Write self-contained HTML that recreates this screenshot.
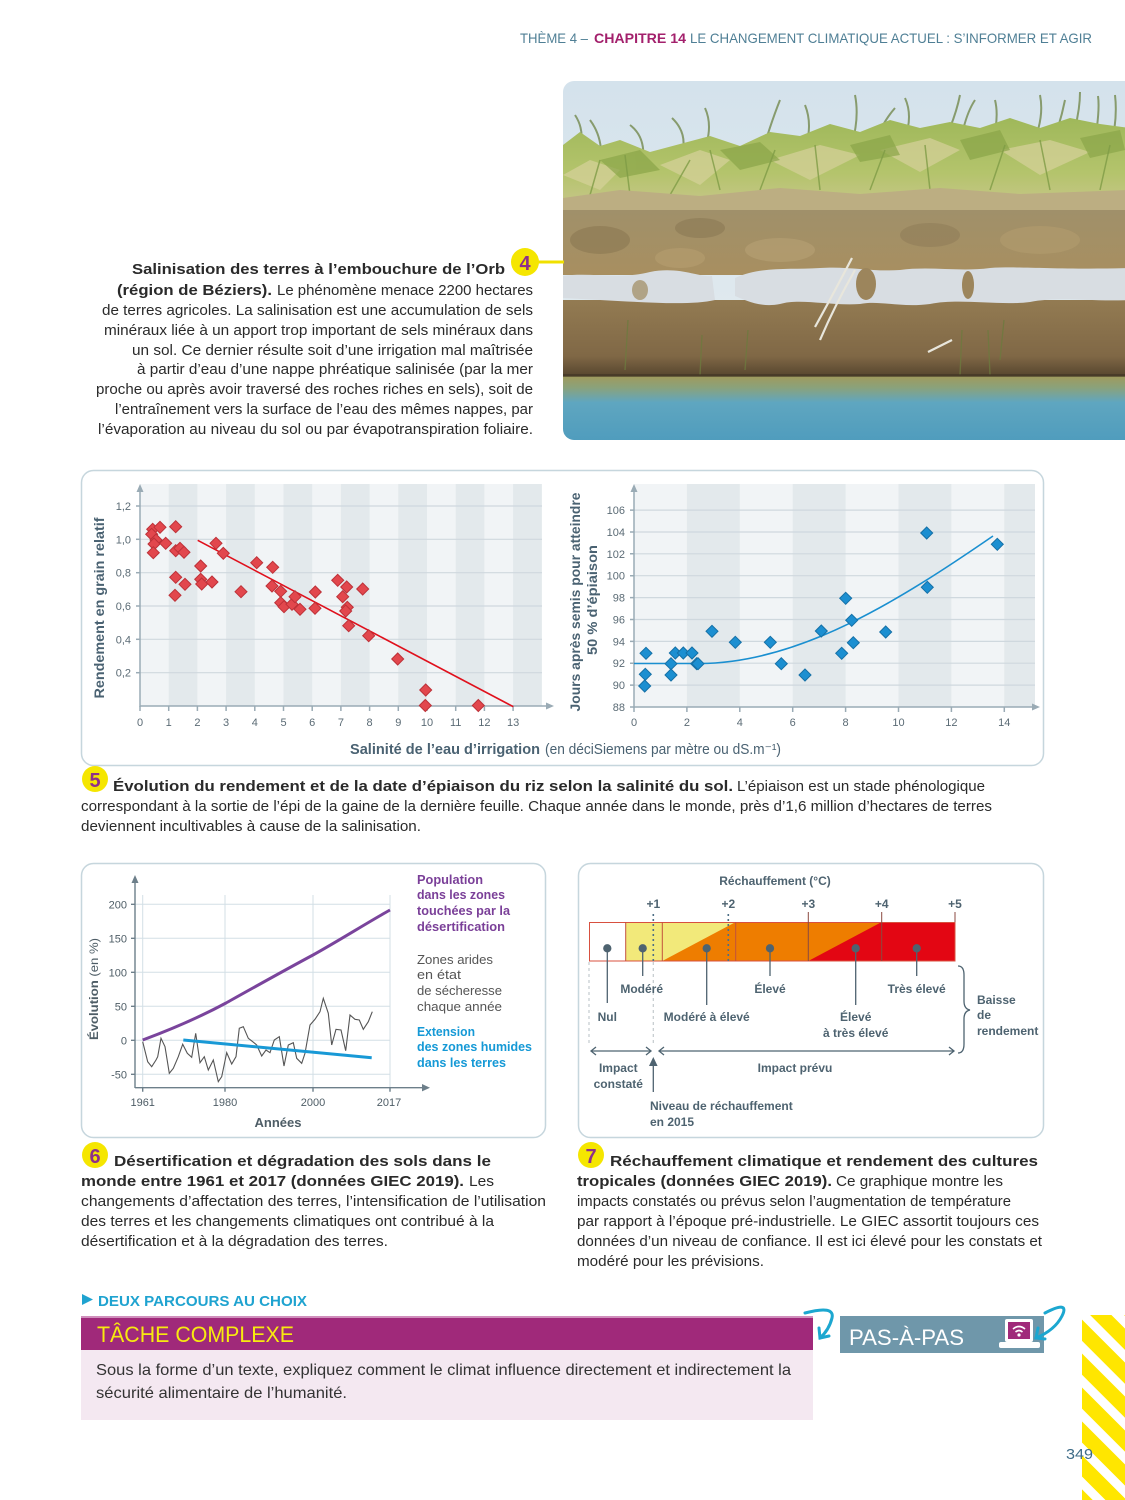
<!DOCTYPE html>
<html lang="fr"><head><meta charset="utf-8"><title>Chapitre 14</title>
<style>
html,body{margin:0;padding:0;background:#fff;}
svg{display:block;}
text{font-family:"Liberation Sans",sans-serif;}
</style></head>
<body>
<svg width="1125" height="1500" viewBox="0 0 1125 1500" xmlns="http://www.w3.org/2000/svg">
<defs>
<linearGradient id="sky" x1="0" y1="0" x2="0" y2="1"><stop offset="0" stop-color="#d4e2ec"/><stop offset="1" stop-color="#e6edf0"/></linearGradient>
<linearGradient id="water" x1="0" y1="0" x2="0" y2="1"><stop offset="0" stop-color="#a09a5c"/><stop offset="0.18" stop-color="#8aa27c"/><stop offset="0.4" stop-color="#5fa6c0"/><stop offset="1" stop-color="#4f9cbd"/></linearGradient>
<linearGradient id="lsoil" x1="0" y1="0" x2="0" y2="1"><stop offset="0" stop-color="#937b52"/><stop offset="0.7" stop-color="#806846"/><stop offset="1" stop-color="#4f3f2a"/></linearGradient>
<linearGradient id="usoil" x1="0" y1="0" x2="0" y2="1"><stop offset="0" stop-color="#a0906a"/><stop offset="1" stop-color="#a88f60"/></linearGradient>
<linearGradient id="grass" x1="0" y1="0" x2="0" y2="1"><stop offset="0" stop-color="#9fb85a"/><stop offset="0.6" stop-color="#b4c46c"/><stop offset="1" stop-color="#c9c68c"/></linearGradient>
<clipPath id="ph"><rect x="563" y="81" width="600" height="359" rx="11"/></clipPath>
<pattern id="stripes" width="24" height="24" patternUnits="userSpaceOnUse" patternTransform="rotate(45)"><rect width="24" height="24" fill="#fff"/><rect width="24" height="15" fill="#ffe600"/></pattern>
<path id="rd" d="M0,-6 L6,0 0,6 -6,0Z" fill="#e2474d" stroke="#bd3138" stroke-width="1"/>
<path id="bd" d="M0,-6 L6,0 0,6 -6,0Z" fill="#1c8fd1" stroke="#1570a6" stroke-width="1"/>
</defs>

<!-- HEADER -->
<text y="43" font-size="14" fill="#4f7f95"><tspan x="520" textLength="68" lengthAdjust="spacingAndGlyphs">THÈME 4 –</tspan></text>
<text x="594" y="43" font-size="14" font-weight="bold" fill="#a3206c" textLength="92" lengthAdjust="spacingAndGlyphs">CHAPITRE 14</text>
<text x="690" y="43" font-size="14" fill="#4f7f95" textLength="402" lengthAdjust="spacingAndGlyphs">LE CHANGEMENT CLIMATIQUE ACTUEL : S’INFORMER ET AGIR</text>

<!-- PHOTO -->
<g clip-path="url(#ph)">
<rect x="563" y="81" width="600" height="360" fill="url(#sky)"/>
<g stroke="#7a8f58" stroke-width="2" fill="none" opacity="0.85">
<path d="M600,170 Q605,140 590,120"/><path d="M640,175 Q650,140 630,125"/><path d="M700,160 Q715,130 705,108"/>
<path d="M760,160 Q770,125 780,100"/><path d="M800,160 Q815,130 805,105"/><path d="M850,150 Q860,120 855,95"/>
<path d="M900,150 Q915,120 905,98"/><path d="M940,150 Q955,120 960,95"/><path d="M990,150 Q1000,120 995,100"/>
<path d="M1030,150 Q1045,120 1040,95"/><path d="M1070,145 Q1080,115 1080,92"/><path d="M1110,150 Q1118,120 1115,95"/>
<path d="M680,160 Q690,135 672,118"/><path d="M870,155 Q880,125 895,108"/><path d="M1050,150 Q1060,125 1065,100"/>
<path d="M580,150 Q585,130 575,115"/><path d="M960,145 Q965,115 975,100"/><path d="M1095,140 Q1100,110 1098,96"/>
</g>
<polygon fill="url(#grass)" points="563,145 580,132 600,146 620,140 650,152 680,144 710,136 740,146 770,132 800,136 830,124 860,132 890,120 920,128 950,122 980,128 1010,118 1040,128 1070,118 1100,124 1130,128 1130,210 563,210"/>
<g fill="#d4d098" opacity="0.75">
<polygon points="563,175 590,160 620,170 600,190"/>
<polygon points="660,165 700,150 730,160 700,185"/>
<polygon points="770,160 820,145 860,155 810,180"/>
<polygon points="880,150 930,138 960,150 920,172"/>
<polygon points="1000,150 1050,140 1090,152 1040,175"/>
</g>
<g fill="#8aa548" opacity="0.7">
<polygon points="600,160 640,150 660,170 620,178"/>
<polygon points="720,150 760,142 780,160 740,170"/>
<polygon points="850,145 890,135 900,155 860,162"/>
<polygon points="960,140 1000,130 1010,150 970,160"/>
<polygon points="1080,138 1120,130 1125,150 1090,158"/>
</g>
<g stroke="#7f9c46" stroke-width="1.5" fill="none" opacity="0.8">
<path d="M590,195 L600,160"/><path d="M630,195 L625,155"/><path d="M670,195 L690,160"/><path d="M720,190 L710,150"/><path d="M760,190 L775,150"/><path d="M820,190 L815,145"/><path d="M870,190 L885,150"/><path d="M930,190 L925,145"/><path d="M990,190 L1005,145"/><path d="M1050,190 L1040,140"/><path d="M1100,190 L1110,145"/>
</g>
<polygon fill="#bcae82" points="563,198 620,190 700,196 780,188 860,194 940,188 1020,194 1130,190 1130,214 563,214"/>
<rect x="563" y="210" width="600" height="65" fill="url(#usoil)"/>
<ellipse cx="600" cy="240" rx="30" ry="14" fill="#8a7852" opacity="0.6"/>
<ellipse cx="700" cy="228" rx="25" ry="10" fill="#857350" opacity="0.5"/>
<ellipse cx="780" cy="250" rx="35" ry="12" fill="#b8a274" opacity="0.6"/>
<ellipse cx="930" cy="235" rx="30" ry="12" fill="#8c7a55" opacity="0.5"/>
<ellipse cx="1040" cy="240" rx="40" ry="14" fill="#b29c6e" opacity="0.6"/>
<ellipse cx="680" cy="258" rx="25" ry="10" fill="#b59f70" opacity="0.6"/>
<rect x="563" y="300" width="600" height="80" fill="url(#lsoil)"/>
<path fill="#d8dde2" d="M563,276 C590,272 620,280 650,272 C680,266 700,278 712,276 L715,300 C690,306 640,302 600,300 L563,298 Z"/>
<path fill="#d8dde2" d="M735,278 C760,266 790,270 820,268 C850,266 870,272 900,270 C930,266 960,272 990,268 C1020,266 1060,270 1130,268 L1130,300 C1090,302 1060,296 1030,302 C1000,306 960,298 930,304 C900,308 880,300 860,304 C830,306 800,298 780,304 C760,308 745,300 735,296 Z"/>
<ellipse cx="866" cy="284" rx="10" ry="16" fill="#9c855c"/>
<ellipse cx="968" cy="285" rx="6" ry="14" fill="#9c855c"/>
<ellipse cx="640" cy="290" rx="8" ry="10" fill="#a08a60" opacity="0.7"/>
<g stroke="#e8e6dc" stroke-width="2.2" fill="none">
<path d="M815,327 Q830,300 852,258"/><path d="M820,340 Q835,305 855,270"/><path d="M928,352 L952,340"/>
</g>
<g stroke="#6d7a3e" stroke-width="1.3" fill="none" opacity="0.8">
<path d="M625,370 L628,320"/><path d="M700,375 L702,335"/><path d="M745,370 L748,330"/><path d="M960,375 L962,330"/><path d="M990,375 L988,330"/><path d="M1000,360 L1004,320"/>
</g>
<rect x="563" y="376" width="600" height="66" fill="url(#water)"/>
<rect x="563" y="374" width="600" height="3" fill="#3e3324" opacity="0.6"/>
</g>

<!-- CAPTION 4 -->
<line x1="538" y1="262" x2="564" y2="262" stroke="#f0e000" stroke-width="3"/>
<circle cx="525" cy="262" r="14" fill="#f5e600"/>
<text x="525" y="270" font-size="20" font-weight="bold" fill="#8e2f8a" text-anchor="middle">4</text>
<g font-size="15" fill="#2a2a2a">
<text x="132" y="274" font-weight="bold" textLength="373" lengthAdjust="spacingAndGlyphs">Salinisation des terres à l’embouchure de l’Orb</text>
<text x="117" y="295" font-weight="bold" textLength="155" lengthAdjust="spacingAndGlyphs">(région de Béziers).</text>
<text x="277" y="295" textLength="256" lengthAdjust="spacingAndGlyphs">Le phénomène menace 2200 hectares</text>
<text x="102" y="315" textLength="431" lengthAdjust="spacingAndGlyphs">de terres agricoles. La salinisation est une accumulation de sels</text>
<text x="104" y="335" textLength="429" lengthAdjust="spacingAndGlyphs">minéraux liée à un apport trop important de sels minéraux dans</text>
<text x="132" y="355" textLength="401" lengthAdjust="spacingAndGlyphs">un sol. Ce dernier résulte soit d’une irrigation mal maîtrisée</text>
<text x="137" y="374" textLength="396" lengthAdjust="spacingAndGlyphs">à partir d’eau d’une nappe phréatique salinisée (par la mer</text>
<text x="96" y="394" textLength="437" lengthAdjust="spacingAndGlyphs">proche ou après avoir traversé des roches riches en sels), soit de</text>
<text x="115" y="414" textLength="418" lengthAdjust="spacingAndGlyphs">l’entraînement vers la surface de l’eau des mêmes nappes, par</text>
<text x="98" y="434" textLength="435" lengthAdjust="spacingAndGlyphs">l’évaporation au niveau du sol ou par évapotranspiration foliaire.</text>
</g>

<!-- CHART 5 BOX -->
<rect x="81.5" y="470.5" width="962" height="295" rx="12" fill="#fff" stroke="#c6d6dd" stroke-width="1.5"/>
<!-- left plot -->
<rect x="140" y="484" width="402" height="222" fill="#f1f4f6"/>
<g fill="#e3e9ec">
<rect x="168.7" y="484" width="28.7" height="222"/><rect x="226.1" y="484" width="28.7" height="222"/><rect x="283.5" y="484" width="28.7" height="222"/><rect x="340.9" y="484" width="28.7" height="222"/><rect x="398.3" y="484" width="28.7" height="222"/><rect x="455.7" y="484" width="28.7" height="222"/><rect x="513.1" y="484" width="28.7" height="222"/>
</g>
<g stroke="#cfd8de" stroke-width="1.2">
<line x1="140" y1="506" x2="542" y2="506"/><line x1="140" y1="539.3" x2="542" y2="539.3"/><line x1="140" y1="572.7" x2="542" y2="572.7"/><line x1="140" y1="606" x2="542" y2="606"/><line x1="140" y1="639.3" x2="542" y2="639.3"/><line x1="140" y1="672.7" x2="542" y2="672.7"/>
</g>
<g stroke="#9aabb5" stroke-width="1.5" fill="none">
<line x1="140" y1="707" x2="140" y2="488"/><line x1="140" y1="706" x2="550" y2="706"/>
<line x1="136" y1="506" x2="140" y2="506"/><line x1="136" y1="539.3" x2="140" y2="539.3"/><line x1="136" y1="572.7" x2="140" y2="572.7"/><line x1="136" y1="606" x2="140" y2="606"/><line x1="136" y1="639.3" x2="140" y2="639.3"/><line x1="136" y1="672.7" x2="140" y2="672.7"/>
<path d="M140,706v5M168.7,706v5M197.4,706v5M226.1,706v5M254.8,706v5M283.5,706v5M312.2,706v5M340.9,706v5M369.6,706v5M398.3,706v5M427,706v5M455.7,706v5M484.4,706v5M513.1,706v5"/>
</g>
<path d="M136.5,492 L140,484 143.5,492Z" fill="#9aabb5"/>
<path d="M546,702.5 L554,706 546,709.5Z" fill="#9aabb5"/>
<g font-size="11" fill="#5b6b75" text-anchor="end">
<text x="131" y="510">1,2</text><text x="131" y="543.3">1,0</text><text x="131" y="576.7">0,8</text><text x="131" y="610">0,6</text><text x="131" y="643.3">0,4</text><text x="131" y="676.7">0,2</text>
</g>
<g font-size="11" fill="#5b6b75" text-anchor="middle">
<text x="140" y="726">0</text><text x="168.7" y="726">1</text><text x="197.4" y="726">2</text><text x="226.1" y="726">3</text><text x="254.8" y="726">4</text><text x="283.5" y="726">5</text><text x="312.2" y="726">6</text><text x="340.9" y="726">7</text><text x="369.6" y="726">8</text><text x="398.3" y="726">9</text><text x="427" y="726">10</text><text x="455.7" y="726">11</text><text x="484.4" y="726">12</text><text x="513.1" y="726">13</text>
</g>
<text transform="translate(104,608) rotate(-90)" font-size="14" font-weight="bold" fill="#4a6272" text-anchor="middle" textLength="181" lengthAdjust="spacingAndGlyphs">Rendement en grain relatif</text>
<line x1="197.7" y1="540.3" x2="513.3" y2="706.7" stroke="#e0101c" stroke-width="1.6"/>
<g>
<use href="#rd" x="152.7" y="529.3"/><use href="#rd" x="160" y="527.3"/><use href="#rd" x="151.7" y="534.3"/><use href="#rd" x="156" y="540"/><use href="#rd" x="154" y="544"/><use href="#rd" x="153.3" y="552.7"/><use href="#rd" x="165.7" y="543.3"/><use href="#rd" x="175.7" y="526.7"/><use href="#rd" x="175.7" y="550.7"/><use href="#rd" x="180" y="548.3"/><use href="#rd" x="184" y="552.3"/><use href="#rd" x="175.7" y="577.3"/><use href="#rd" x="185" y="584.3"/><use href="#rd" x="175" y="595.3"/><use href="#rd" x="200.7" y="566"/><use href="#rd" x="200.7" y="579.3"/><use href="#rd" x="201.7" y="584"/><use href="#rd" x="212" y="582"/><use href="#rd" x="216" y="543.3"/><use href="#rd" x="223.3" y="553.3"/><use href="#rd" x="241" y="591.7"/><use href="#rd" x="256.7" y="562.7"/><use href="#rd" x="272.7" y="567.3"/><use href="#rd" x="272" y="586"/><use href="#rd" x="280.7" y="591.3"/><use href="#rd" x="280.7" y="602.7"/><use href="#rd" x="284" y="606.7"/><use href="#rd" x="292" y="604.3"/><use href="#rd" x="295" y="596.7"/><use href="#rd" x="300" y="609.3"/><use href="#rd" x="315.3" y="592"/><use href="#rd" x="315" y="608.3"/><use href="#rd" x="337.7" y="580.3"/><use href="#rd" x="346.7" y="587"/><use href="#rd" x="342.7" y="596.7"/><use href="#rd" x="347.3" y="607.3"/><use href="#rd" x="345.7" y="611"/><use href="#rd" x="348.7" y="625.7"/><use href="#rd" x="362.7" y="589"/><use href="#rd" x="368.7" y="635.7"/><use href="#rd" x="397.7" y="659"/><use href="#rd" x="425.7" y="690"/><use href="#rd" x="425.3" y="705.5"/><use href="#rd" x="478.3" y="705.5"/>
</g>

<!-- right plot -->
<rect x="634" y="484" width="401" height="223" fill="#f1f4f6"/>
<g fill="#e3e9ec">
<rect x="686.9" y="484" width="52.9" height="223"/><rect x="792.7" y="484" width="52.9" height="223"/><rect x="898.5" y="484" width="52.9" height="223"/><rect x="1004.3" y="484" width="30.7" height="223"/>
</g>
<g stroke="#cfd8de" stroke-width="1.2">
<line x1="634" y1="685.1" x2="1035" y2="685.1"/><line x1="634" y1="663.2" x2="1035" y2="663.2"/><line x1="634" y1="641.4" x2="1035" y2="641.4"/><line x1="634" y1="619.5" x2="1035" y2="619.5"/><line x1="634" y1="597.6" x2="1035" y2="597.6"/><line x1="634" y1="575.7" x2="1035" y2="575.7"/><line x1="634" y1="553.8" x2="1035" y2="553.8"/><line x1="634" y1="532" x2="1035" y2="532"/><line x1="634" y1="510.1" x2="1035" y2="510.1"/>
</g>
<g stroke="#9aabb5" stroke-width="1.5" fill="none">
<line x1="634" y1="708" x2="634" y2="488"/><line x1="634" y1="707" x2="1036" y2="707"/>
<path d="M630,707h4M630,685.1h4M630,663.2h4M630,641.4h4M630,619.5h4M630,597.6h4M630,575.7h4M630,553.8h4M630,532h4M630,510.1h4"/>
<path d="M634,707v5M686.9,707v5M739.8,707v5M792.7,707v5M845.6,707v5M898.5,707v5M951.4,707v5M1004.3,707v5"/>
</g>
<path d="M630.5,492 L634,484 637.5,492Z" fill="#9aabb5"/>
<path d="M1032,703.5 L1040,707 1032,710.5Z" fill="#9aabb5"/>
<g font-size="11" fill="#5b6b75" text-anchor="end">
<text x="625" y="711">88</text><text x="625" y="689.1">90</text><text x="625" y="667.2">92</text><text x="625" y="645.4">94</text><text x="625" y="623.5">96</text><text x="625" y="601.6">98</text><text x="625" y="579.7">100</text><text x="625" y="557.8">102</text><text x="625" y="536">104</text><text x="625" y="514.1">106</text>
</g>
<g font-size="11" fill="#5b6b75" text-anchor="middle">
<text x="634" y="726">0</text><text x="686.9" y="726">2</text><text x="739.8" y="726">4</text><text x="792.7" y="726">6</text><text x="845.6" y="726">8</text><text x="898.5" y="726">10</text><text x="951.4" y="726">12</text><text x="1004.3" y="726">14</text>
</g>
<text transform="translate(580,602) rotate(-90)" font-size="14" font-weight="bold" fill="#4a6272" text-anchor="middle" textLength="219" lengthAdjust="spacingAndGlyphs">Jours après semis pour atteindre</text>
<text transform="translate(597,600) rotate(-90)" font-size="14" font-weight="bold" fill="#4a6272" text-anchor="middle" textLength="110" lengthAdjust="spacingAndGlyphs">50 % d’épiaison</text>
<path d="M634,663.5 L700,663.5 C800,663 900,600 993,536" fill="none" stroke="#1a8fd0" stroke-width="1.6"/>
<g>
<use href="#bd" x="646" y="653.3"/><use href="#bd" x="645.3" y="674.3"/><use href="#bd" x="644.7" y="686"/><use href="#bd" x="671" y="663.7"/><use href="#bd" x="671" y="675"/><use href="#bd" x="675.3" y="653"/><use href="#bd" x="683.3" y="653"/><use href="#bd" x="692" y="653"/><use href="#bd" x="696.7" y="663.7"/><use href="#bd" x="698" y="663.7"/><use href="#bd" x="712" y="631.3"/><use href="#bd" x="735.3" y="642.3"/><use href="#bd" x="770.3" y="642.3"/><use href="#bd" x="781.3" y="663.7"/><use href="#bd" x="805" y="675"/><use href="#bd" x="821.3" y="631"/><use href="#bd" x="841.7" y="653.3"/><use href="#bd" x="845.7" y="598.3"/><use href="#bd" x="851.7" y="620.3"/><use href="#bd" x="853.3" y="642.7"/><use href="#bd" x="885.7" y="632"/><use href="#bd" x="926.7" y="533"/><use href="#bd" x="927.3" y="587.3"/><use href="#bd" x="997.3" y="544.3"/>
</g>
<text x="350" y="754" font-size="14.5" font-weight="bold" fill="#4a6272" textLength="190" lengthAdjust="spacingAndGlyphs">Salinité de l’eau d’irrigation</text>
<text x="545" y="754" font-size="14.5" fill="#4a6272" textLength="236" lengthAdjust="spacingAndGlyphs">(en déciSiemens par mètre ou dS.m⁻¹)</text>

<!-- CAPTION 5 -->
<circle cx="95" cy="779" r="13" fill="#f5e600"/>
<text x="95" y="787" font-size="20" font-weight="bold" fill="#8e2f8a" text-anchor="middle">5</text>
<g font-size="15" fill="#2a2a2a">
<text x="113" y="791" font-weight="bold" textLength="620" lengthAdjust="spacingAndGlyphs">Évolution du rendement et de la date d’épiaison du riz selon la salinité du sol.</text>
<text x="737" y="791" textLength="248" lengthAdjust="spacingAndGlyphs">L’épiaison est un stade phénologique</text>
<text x="81" y="811" textLength="911" lengthAdjust="spacingAndGlyphs">correspondant à la sortie de l’épi de la gaine de la dernière feuille. Chaque année dans le monde, près d’1,6 million d’hectares de terres</text>
<text x="81" y="831" textLength="340" lengthAdjust="spacingAndGlyphs">deviennent incultivables à cause de la salinisation.</text>
</g>

<!-- CHART 6 -->
<rect x="81.5" y="863.5" width="464" height="274" rx="12" fill="#fff" stroke="#c6d6dd" stroke-width="1.5"/>
<g stroke="#d3dfe6" stroke-width="1">
<line x1="135" y1="904.3" x2="390" y2="904.3"/><line x1="135" y1="938.3" x2="390" y2="938.3"/><line x1="135" y1="972.3" x2="390" y2="972.3"/><line x1="135" y1="1006.3" x2="390" y2="1006.3"/><line x1="135" y1="1040.3" x2="390" y2="1040.3"/><line x1="135" y1="1074.3" x2="390" y2="1074.3"/>
<line x1="142.7" y1="895" x2="142.7" y2="1088"/><line x1="225" y1="895" x2="225" y2="1088"/><line x1="313" y1="895" x2="313" y2="1088"/><line x1="390" y1="895" x2="390" y2="1088"/>
</g>
<g stroke="#6d7f8a" stroke-width="1.4" fill="none">
<line x1="135" y1="1088" x2="135" y2="880"/><line x1="135" y1="1087.7" x2="424" y2="1087.7"/>
<path d="M131,904.3h4M131,938.3h4M131,972.3h4M131,1006.3h4M131,1040.3h4M131,1074.3h4"/>
<path d="M142.7,1087.7v4M225,1087.7v4M313,1087.7v4M390,1087.7v4"/>
</g>
<path d="M131.5,883 L135,875 138.5,883Z" fill="#6d7f8a"/>
<path d="M422,1084 L430,1087.7 422,1091.4Z" fill="#6d7f8a"/>
<g font-size="11" fill="#4e5d66" text-anchor="end">
<text x="127" y="908.3">200</text><text x="127" y="942.3">150</text><text x="127" y="976.3">100</text><text x="127" y="1010.3">50</text><text x="127" y="1044.3">0</text><text x="127" y="1078.3">-50</text>
</g>
<g font-size="11" fill="#4e5d66" text-anchor="middle">
<text x="142.7" y="1106">1961</text><text x="225" y="1106">1980</text><text x="313" y="1106">2000</text><text x="389" y="1106">2017</text>
</g>
<text x="278" y="1127" font-size="13" font-weight="bold" fill="#4e5d66" text-anchor="middle">Années</text>
<text transform="translate(98,989) rotate(-90)" font-size="12" fill="#4e5d66" text-anchor="middle" textLength="102" lengthAdjust="spacingAndGlyphs"><tspan font-weight="bold">Évolution</tspan> (en %)</text>
<path d="M142.7,1041.7 L147.7,1061.7 151.7,1066.7 156,1060 157.7,1056.7 161,1038.3 165,1046.7 169.3,1073.3 173.3,1068.3 178.3,1056.7 182.7,1044.3 187.3,1053.3 191.7,1057.3 195.7,1033.3 200,1062.7 204.3,1056.7 208.3,1070 213.3,1060 218.3,1081.7 221.7,1076.7 226.7,1052.7 231.7,1064 236,1056.7 239.3,1028.3 243.3,1026.7 248.3,1038.3 252.7,1041.7 256.7,1045 261.7,1056 266,1050 270,1052.7 274.3,1040 279.3,1036.7 284,1066 288.3,1045 293.3,1042.7 296.7,1058.3 301.7,1063.3 305,1053.3 310,1025 315,1019.3 320,1011.7 323.3,998.3 328.3,1013.3 331.7,1045 336,1029.3 341,1030 345.7,1050.7 350,1015 355,1019.3 359.3,1020 363.3,1029.3 368.3,1021.7 372.3,1011.7" fill="none" stroke="#555" stroke-width="1.1"/>
<path d="M142.7,1040 C175,1028 200,1017 226,1003 C260,984 285,970 313,955 C340,940 365,924 390,910" fill="none" stroke="#7a449c" stroke-width="3"/>
<line x1="183.3" y1="1040" x2="371.7" y2="1057.7" stroke="#1899d6" stroke-width="3"/>
<g font-size="12.5" font-weight="bold">
<text x="417" y="884" fill="#7a3f98" textLength="66" lengthAdjust="spacingAndGlyphs">Population</text>
<text x="417" y="899" fill="#7a3f98" textLength="88" lengthAdjust="spacingAndGlyphs">dans les zones</text>
<text x="417" y="915" fill="#7a3f98" textLength="93" lengthAdjust="spacingAndGlyphs">touchées par la</text>
<text x="417" y="931" fill="#7a3f98" textLength="88" lengthAdjust="spacingAndGlyphs">désertification</text>
<text x="417" y="964" fill="#555" font-weight="normal" textLength="76" lengthAdjust="spacingAndGlyphs">Zones arides</text>
<text x="417" y="979" fill="#555" font-weight="normal" textLength="44" lengthAdjust="spacingAndGlyphs">en état</text>
<text x="417" y="995" fill="#555" font-weight="normal" textLength="85" lengthAdjust="spacingAndGlyphs">de sécheresse</text>
<text x="417" y="1011" fill="#555" font-weight="normal" textLength="85" lengthAdjust="spacingAndGlyphs">chaque année</text>
<text x="417" y="1036" fill="#1599d6" textLength="58" lengthAdjust="spacingAndGlyphs">Extension</text>
<text x="417" y="1051" fill="#1599d6" textLength="115" lengthAdjust="spacingAndGlyphs">des zones humides</text>
<text x="417" y="1067" fill="#1599d6" textLength="89" lengthAdjust="spacingAndGlyphs">dans les terres</text>
</g>

<!-- CHART 7 -->
<rect x="578.5" y="863.5" width="465" height="274" rx="12" fill="#fff" stroke="#c6d6dd" stroke-width="1.5"/>
<g font-size="12" font-weight="bold" fill="#4e6370">
<text x="775" y="885" text-anchor="middle">Réchauffement (°C)</text>
<text x="653.3" y="908" text-anchor="middle">+1</text><text x="728.3" y="908" text-anchor="middle">+2</text><text x="808.3" y="908" text-anchor="middle">+3</text><text x="881.7" y="908" text-anchor="middle">+4</text><text x="955" y="908" text-anchor="middle">+5</text>
</g>
<rect x="589" y="922" width="36.7" height="39" fill="#fff"/>
<rect x="625.7" y="922" width="36.6" height="39" fill="#f2e97a"/>
<rect x="662.3" y="922" width="73.4" height="39" fill="#ee7d00"/>
<polygon points="662.3,922 735.7,922 662.3,961" fill="#f2e97a"/>
<rect x="735.7" y="922" width="72.6" height="39" fill="#ee7d00"/>
<rect x="808.3" y="922" width="73.4" height="39" fill="#e30613"/>
<polygon points="808.3,922 881.7,922 808.3,961" fill="#ee7d00"/>
<rect x="881.7" y="922" width="73.3" height="39" fill="#e30613"/>
<rect x="589.5" y="922.5" width="365.5" height="38.5" fill="none" stroke="#d8503f" stroke-width="1"/>
<g stroke="#c2513c" stroke-width="1">
<line x1="625.7" y1="922" x2="625.7" y2="961"/><line x1="662.3" y1="922" x2="662.3" y2="961"/><line x1="735.7" y1="922" x2="735.7" y2="961"/>
</g>
<g stroke="#8b4a40" stroke-width="1">
<line x1="808.3" y1="912" x2="808.3" y2="961"/><line x1="881.7" y1="912" x2="881.7" y2="961"/><line x1="955" y1="912" x2="955" y2="922"/>
</g>
<g stroke="#4e6f86" stroke-width="1.6" stroke-dasharray="2,3">
<line x1="653.3" y1="914" x2="653.3" y2="961"/><line x1="728.3" y1="914" x2="728.3" y2="961"/>
</g>
<g stroke="#c3cace" stroke-width="1.2" stroke-dasharray="3,3">
<line x1="589" y1="962" x2="589" y2="1045"/><line x1="653.3" y1="962" x2="653.3" y2="1045"/>
</g>
<g fill="#4e6370" stroke="#4e6370" stroke-width="1.3">
<circle cx="607.3" cy="948.3" r="3.5"/><line x1="607.3" y1="948" x2="607.3" y2="1003"/>
<circle cx="642.7" cy="948.3" r="3.5"/><line x1="642.7" y1="948" x2="642.7" y2="976"/>
<circle cx="706.7" cy="948.3" r="3.5"/><line x1="706.7" y1="948" x2="706.7" y2="1005"/>
<circle cx="770" cy="948.3" r="3.5"/><line x1="770" y1="948" x2="770" y2="976"/>
<circle cx="855.7" cy="948.3" r="3.5"/><line x1="855.7" y1="948" x2="855.7" y2="1005"/>
<circle cx="916.7" cy="948.3" r="3.5"/><line x1="916.7" y1="948" x2="916.7" y2="976"/>
</g>
<g font-size="12" font-weight="bold" fill="#4e6370" text-anchor="middle">
<text x="641.7" y="993">Modéré</text>
<text x="770" y="993">Élevé</text>
<text x="916.7" y="993">Très élevé</text>
<text x="607.3" y="1021">Nul</text>
<text x="706.7" y="1021">Modéré à élevé</text>
<text x="855.7" y="1021">Élevé</text>
<text x="855.7" y="1037">à très élevé</text>
<text x="618.3" y="1072">Impact</text>
<text x="618.3" y="1088">constaté</text>
<text x="795" y="1072">Impact prévu</text>
</g>
<g font-size="12" font-weight="bold" fill="#4e6370">
<text x="977" y="1004">Baisse</text><text x="977" y="1019">de</text><text x="977" y="1035">rendement</text>
<text x="650" y="1110">Niveau de réchauffement</text><text x="650" y="1126">en 2015</text>
</g>
<g stroke="#4e6370" stroke-width="1.3" fill="none">
<path d="M958,966 Q964,966 964,975 L964,1001 Q964,1009 970,1010 Q964,1011 964,1019 L964,1044 Q964,1053 958,1053"/>
<line x1="591" y1="1051" x2="651" y2="1051"/><path d="M596,1047 L591,1051 596,1055"/><path d="M646,1047 L651,1051 646,1055"/>
<line x1="659" y1="1051" x2="954" y2="1051"/><path d="M664,1047 L659,1051 664,1055"/><path d="M949,1047 L954,1051 949,1055"/>
<line x1="653.3" y1="1092" x2="653.3" y2="1064"/>
</g>
<path d="M649,1066 L653.3,1057 657.6,1066Z" fill="#4e6370"/>

<!-- CAPTION 6 -->
<circle cx="95" cy="1155" r="13" fill="#f5e600"/>
<text x="95" y="1163" font-size="20" font-weight="bold" fill="#8e2f8a" text-anchor="middle">6</text>
<g font-size="15" fill="#2a2a2a">
<text x="114" y="1166" font-weight="bold" textLength="377" lengthAdjust="spacingAndGlyphs">Désertification et dégradation des sols dans le</text>
<text x="81" y="1186" font-weight="bold" textLength="383" lengthAdjust="spacingAndGlyphs">monde entre 1961 et 2017 (données GIEC 2019).</text>
<text x="469" y="1186" textLength="25" lengthAdjust="spacingAndGlyphs">Les</text>
<text x="81" y="1206" textLength="465" lengthAdjust="spacingAndGlyphs">changements d’affectation des terres, l’intensification de l’utilisation</text>
<text x="81" y="1226" textLength="413" lengthAdjust="spacingAndGlyphs">des terres et les changements climatiques ont contribué à la</text>
<text x="81" y="1246" textLength="307" lengthAdjust="spacingAndGlyphs">désertification et à la dégradation des terres.</text>
</g>

<!-- CAPTION 7 -->
<circle cx="591" cy="1155" r="13" fill="#f5e600"/>
<text x="591" y="1163" font-size="20" font-weight="bold" fill="#8e2f8a" text-anchor="middle">7</text>
<g font-size="15" fill="#2a2a2a">
<text x="610" y="1166" font-weight="bold" textLength="428" lengthAdjust="spacingAndGlyphs">Réchauffement climatique et rendement des cultures</text>
<text x="577" y="1186" font-weight="bold" textLength="255" lengthAdjust="spacingAndGlyphs">tropicales (données GIEC 2019).</text>
<text x="836" y="1186" textLength="167" lengthAdjust="spacingAndGlyphs">Ce graphique montre les</text>
<text x="577" y="1206" textLength="434" lengthAdjust="spacingAndGlyphs">impacts constatés ou prévus selon l’augmentation de température</text>
<text x="577" y="1226" textLength="462" lengthAdjust="spacingAndGlyphs">par rapport à l’époque pré-industrielle. Le GIEC assortit toujours ces</text>
<text x="577" y="1246" textLength="465" lengthAdjust="spacingAndGlyphs">données d’un niveau de confiance. Il est ici élevé pour les constats et</text>
<text x="577" y="1266" textLength="187" lengthAdjust="spacingAndGlyphs">modéré pour les prévisions.</text>
</g>

<!-- BOTTOM -->
<path d="M82,1294 L93,1299.5 82,1305Z" fill="#1fa3d0"/>
<text x="98" y="1306" font-size="15" font-weight="bold" fill="#1fa3d0" textLength="209" lengthAdjust="spacingAndGlyphs">DEUX PARCOURS AU CHOIX</text>
<rect x="81" y="1316" width="732" height="34" fill="#a0297a"/>
<rect x="81" y="1316" width="732" height="2" fill="#d08fbc"/>
<text x="97" y="1342" font-size="22" fill="#f7ea0f" textLength="197" lengthAdjust="spacingAndGlyphs">TÂCHE COMPLEXE</text>
<rect x="81" y="1350" width="732" height="70" fill="#f4e8f1"/>
<text x="96" y="1375" font-size="16" fill="#333" textLength="695" lengthAdjust="spacingAndGlyphs">Sous la forme d’un texte, expliquez comment le climat influence directement et indirectement la</text>
<text x="96" y="1398" font-size="16" fill="#333" textLength="251" lengthAdjust="spacingAndGlyphs">sécurité alimentaire de l’humanité.</text>

<rect x="840" y="1316" width="204" height="37" fill="#6f97aa"/>
<text x="849" y="1345" font-size="22" fill="#fff" textLength="115" lengthAdjust="spacingAndGlyphs">PAS-À-PAS</text>
<rect x="1005" y="1319" width="28" height="23" rx="2" fill="#fff"/>
<rect x="1008" y="1322" width="22" height="17" fill="#a0297a"/>
<rect x="999" y="1342" width="41" height="6" rx="2" fill="#fff"/>
<g stroke="#fff" stroke-width="1.6" fill="none">
<path d="M1013,1329 Q1019,1324 1025,1329"/><path d="M1015.5,1332 Q1019,1329 1022.5,1332"/>
</g>
<circle cx="1019" cy="1335" r="1.6" fill="#fff"/>
<g stroke="#1ca7d0" stroke-width="3" fill="none" stroke-linecap="round">
<path d="M805,1313 Q835,1305 832,1318 Q829,1330 820,1338"/>
<path d="M819,1328 L820,1338 829,1336"/>
<path d="M1045,1313 Q1070,1300 1062,1316 Q1055,1330 1036,1338"/>
<path d="M1038,1328 L1036,1338 1045,1339"/>
</g>

<rect x="1082" y="1315" width="43" height="185" fill="url(#stripes)"/>
<text x="1066" y="1459" font-size="15" fill="#3d6b87" textLength="27" lengthAdjust="spacingAndGlyphs">349</text>
</svg>
</body></html>
